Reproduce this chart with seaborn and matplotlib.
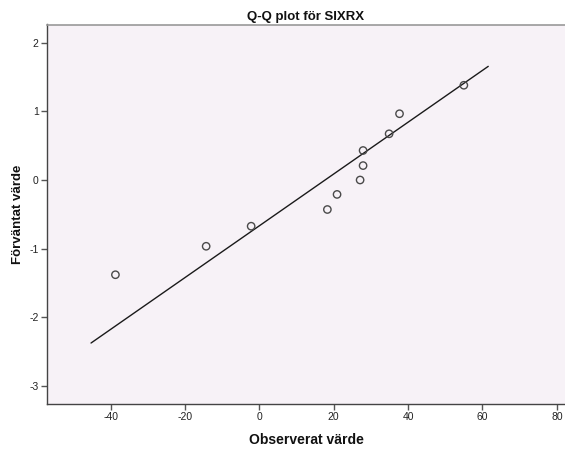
import numpy as np
import pandas as pd
import matplotlib
matplotlib.use("Agg")
import matplotlib.pyplot as plt
import seaborn as sns
from statistics import NormalDist

observed = [-38.7, -14.3, -2.2, 18.3, 20.9, 27.1, 27.9, 27.9, 34.9, 37.7, 55.0]
n = len(observed)
expected = [NormalDist().inv_cdf(i / (n + 1)) for i in range(1, n + 1)]

title = "Q-Q plot för SIXRX"
xlabel = "Observerat värde"
ylabel = "Förväntat värde"
xticks = [-40, -20, 0, 20, 40, 60, 80]
yticks = [-3, -2, -1, 0, 1, 2]

df = pd.DataFrame({"obs": observed, "exp": expected})

# Reference line: expected = (x - mean) / sd
mean = float(np.mean(observed))
sd = float(np.std(observed, ddof=1))
rng = max(observed) - min(observed)
pad = 0.07 * rng
lx = np.array([min(observed) - pad, max(observed) + pad])
line_df = pd.DataFrame({"x": lx, "y": (lx - mean) / sd})

sns.set_theme(style="white")
plt.rcParams["font.family"] = ["Liberation Sans", "DejaVu Sans"]

fig = plt.figure(figsize=(5.65, 4.5), dpi=100)
ax = fig.add_axes([47 / 565, 1 - 404 / 450, 1 - 47 / 565, (404 - 24.5) / 450])
ax.set_facecolor("#F7F2F7")
fig.patch.set_facecolor("white")

sns.lineplot(data=line_df, x="x", y="y", ax=ax, color="#1a1a1a", linewidth=1.0)
sns.scatterplot(data=df, x="obs", y="exp", ax=ax, marker="o", s=28,
                facecolor="none", edgecolor="#4a4a4a", linewidth=1.0, zorder=3)

ax.set_xlim(-57.1, 82.2)
ax.set_ylim(-3.27, 2.27)
ax.set_xticks(xticks)
ax.set_yticks(yticks)
ax.set_xticklabels([str(t) for t in xticks], fontsize=7.5, color="#222222")
ax.set_yticklabels([str(t) for t in yticks], fontsize=7.5, color="#222222")
ax.tick_params(axis="both", direction="out", length=4, width=1, color="#555555", pad=2,
               left=True, bottom=True)

for side in ["left", "bottom"]:
    ax.spines[side].set_color("#444444")
    ax.spines[side].set_linewidth(1.0)
ax.spines["top"].set_color("#999999")
ax.spines["top"].set_linewidth(1.2)
ax.spines["right"].set_visible(False)

ax.set_title(title, fontsize=9.5, fontweight="bold", pad=3, color="#111111")
ax.set_xlabel(xlabel, fontsize=10, fontweight="bold", labelpad=8, color="#111111")
ax.set_ylabel(ylabel, fontsize=9.5, fontweight="bold", labelpad=4, color="#111111")

fig.savefig("out.png", dpi=100)
